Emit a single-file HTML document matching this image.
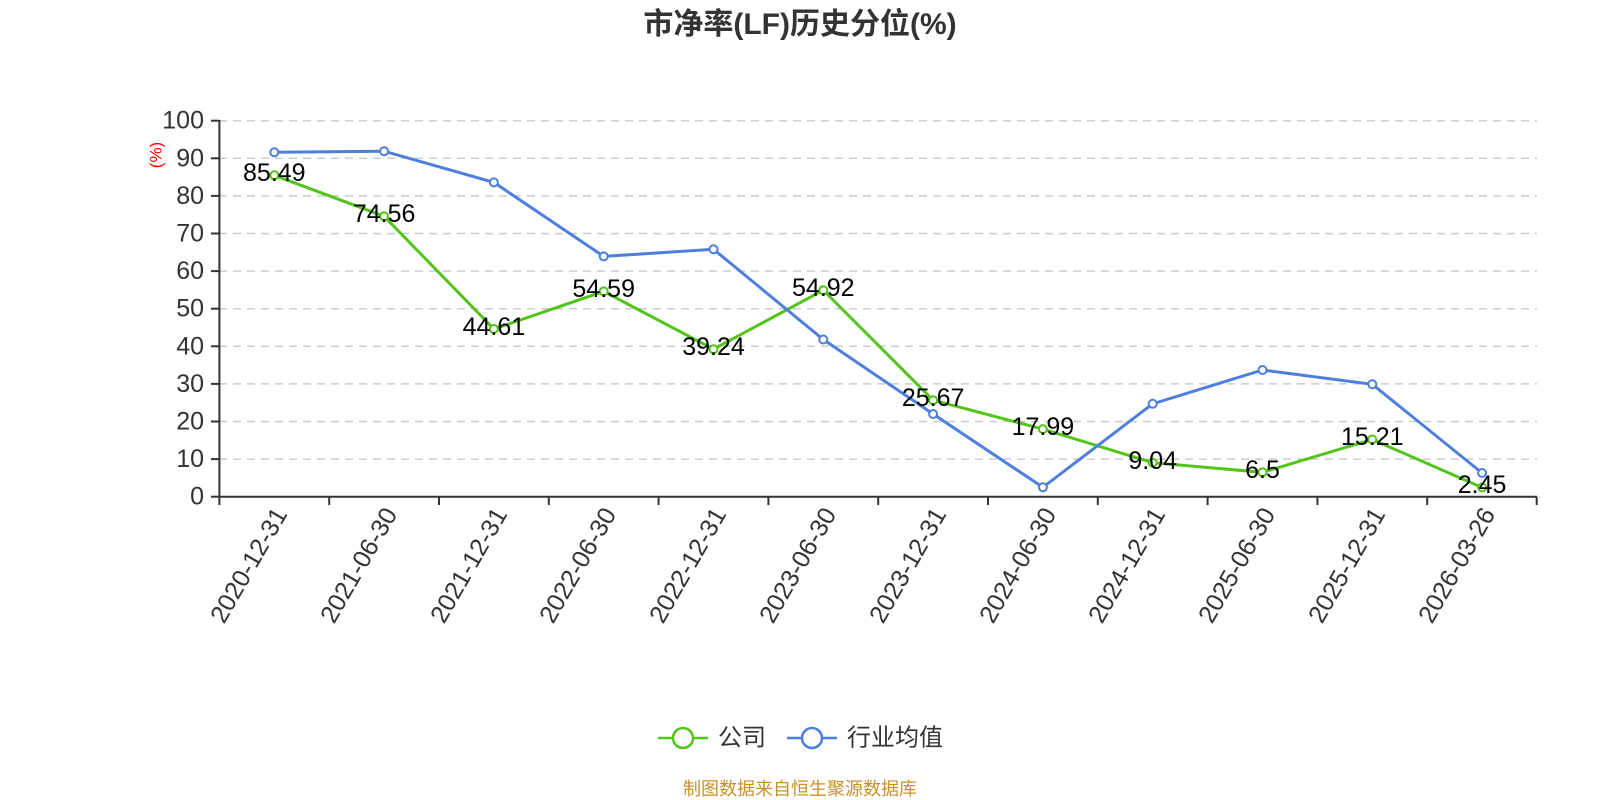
<!DOCTYPE html>
<html><head><meta charset="utf-8"><style>
html,body{margin:0;padding:0;background:#fff;}
svg{display:block;font-family:"Liberation Sans","Noto Sans CJK SC",sans-serif;}
</style></head><body>
<svg width="1600" height="800" viewBox="0 0 1600 800" xmlns="http://www.w3.org/2000/svg">
<text x="800" y="34" text-anchor="middle" font-size="30" font-weight="bold" fill="#333">市净率(LF)历史分位(%)</text>
<g stroke="#ccc" stroke-width="1.5" stroke-dasharray="8,6">
<line x1="219" x2="1537" y1="459.1" y2="459.1"/><line x1="219" x2="1537" y1="421.5" y2="421.5"/>
<line x1="219" x2="1537" y1="383.9" y2="383.9"/><line x1="219" x2="1537" y1="346.3" y2="346.3"/>
<line x1="219" x2="1537" y1="308.7" y2="308.7"/><line x1="219" x2="1537" y1="271.1" y2="271.1"/>
<line x1="219" x2="1537" y1="233.5" y2="233.5"/><line x1="219" x2="1537" y1="195.9" y2="195.9"/>
<line x1="219" x2="1537" y1="158.3" y2="158.3"/><line x1="219" x2="1537" y1="120.7" y2="120.7"/>
</g>
<g stroke="#333" stroke-width="2">
<line x1="219.4" y1="120" x2="219.4" y2="497"/>
<line x1="219" y1="496.7" x2="1537" y2="496.7"/>
<line x1="211" x2="219" y1="496.7" y2="496.7"/><line x1="211" x2="219" y1="459.1" y2="459.1"/>
<line x1="211" x2="219" y1="421.5" y2="421.5"/><line x1="211" x2="219" y1="383.9" y2="383.9"/>
<line x1="211" x2="219" y1="346.3" y2="346.3"/><line x1="211" x2="219" y1="308.7" y2="308.7"/>
<line x1="211" x2="219" y1="271.1" y2="271.1"/><line x1="211" x2="219" y1="233.5" y2="233.5"/>
<line x1="211" x2="219" y1="195.9" y2="195.9"/><line x1="211" x2="219" y1="158.3" y2="158.3"/>
<line x1="211" x2="219" y1="120.7" y2="120.7"/>
<line x1="219.4" x2="219.4" y1="497" y2="505"/><line x1="329.2" x2="329.2" y1="497" y2="505"/>
<line x1="439" x2="439" y1="497" y2="505"/><line x1="548.8" x2="548.8" y1="497" y2="505"/>
<line x1="658.6" x2="658.6" y1="497" y2="505"/><line x1="768.4" x2="768.4" y1="497" y2="505"/>
<line x1="878.2" x2="878.2" y1="497" y2="505"/><line x1="988" x2="988" y1="497" y2="505"/>
<line x1="1097.8" x2="1097.8" y1="497" y2="505"/><line x1="1207.6" x2="1207.6" y1="497" y2="505"/>
<line x1="1317.4" x2="1317.4" y1="497" y2="505"/><line x1="1427.2" x2="1427.2" y1="497" y2="505"/>
<line x1="1536.7" x2="1536.7" y1="497" y2="505"/>
</g>
<g font-size="25" fill="#333" text-anchor="end" dominant-baseline="central">
<text x="204" y="496.7">0</text><text x="204" y="459.1">10</text><text x="204" y="421.5">20</text>
<text x="204" y="383.9">30</text><text x="204" y="346.3">40</text><text x="204" y="308.7">50</text>
<text x="204" y="271.1">60</text><text x="204" y="233.5">70</text><text x="204" y="195.9">80</text>
<text x="204" y="158.3">90</text><text x="204" y="120.7">100</text>
</g>
<text transform="translate(156,155) rotate(-90)" font-size="17" fill="red" text-anchor="middle" dominant-baseline="central">(%)</text>
<g font-size="25" fill="#333" text-anchor="end" dominant-baseline="central">
<text transform="translate(281,510) rotate(-60)">2020-12-31</text>
<text transform="translate(391,510) rotate(-60)">2021-06-30</text>
<text transform="translate(501,510) rotate(-60)">2021-12-31</text>
<text transform="translate(610,510) rotate(-60)">2022-06-30</text>
<text transform="translate(720,510) rotate(-60)">2022-12-31</text>
<text transform="translate(830,510) rotate(-60)">2023-06-30</text>
<text transform="translate(940,510) rotate(-60)">2023-12-31</text>
<text transform="translate(1050,510) rotate(-60)">2024-06-30</text>
<text transform="translate(1159,510) rotate(-60)">2024-12-31</text>
<text transform="translate(1269,510) rotate(-60)">2025-06-30</text>
<text transform="translate(1379,510) rotate(-60)">2025-12-31</text>
<text transform="translate(1489,510) rotate(-60)">2026-03-26</text>
</g>
<polyline fill="none" stroke="#52c41a" stroke-width="3" points="274.3,175.3 384.1,216.3 493.9,329 603.7,291.4 713.5,349.2 823.3,290.2 933.1,400.2 1042.9,429.1 1152.7,462.7 1262.5,472.3 1372.3,439.5 1482.1,487.5"/>
<polyline fill="none" stroke="#4e7fdf" stroke-width="3" points="274.3,152.3 384.1,151.2 493.9,182.4 603.7,256.4 713.5,249.3 823.3,339.5 933.1,414 1042.9,487.3 1152.7,403.8 1262.5,370 1372.3,384.3 1482.1,473"/>
<g fill="#fff" stroke="#52c41a" stroke-width="2">
<circle cx="274.3" cy="175.3" r="4"/><circle cx="384.1" cy="216.3" r="4"/><circle cx="493.9" cy="329" r="4"/>
<circle cx="603.7" cy="291.4" r="4"/><circle cx="713.5" cy="349.2" r="4"/><circle cx="823.3" cy="290.2" r="4"/>
<circle cx="933.1" cy="400.2" r="4"/><circle cx="1042.9" cy="429.1" r="4"/><circle cx="1152.7" cy="462.7" r="4"/>
<circle cx="1262.5" cy="472.3" r="4"/><circle cx="1372.3" cy="439.5" r="4"/><circle cx="1482.1" cy="487.5" r="4"/>
</g>
<g fill="#fff" stroke="#4e7fdf" stroke-width="2">
<circle cx="274.3" cy="152.3" r="4"/><circle cx="384.1" cy="151.2" r="4"/><circle cx="493.9" cy="182.4" r="4"/>
<circle cx="603.7" cy="256.4" r="4"/><circle cx="713.5" cy="249.3" r="4"/><circle cx="823.3" cy="339.5" r="4"/>
<circle cx="933.1" cy="414" r="4"/><circle cx="1042.9" cy="487.3" r="4"/><circle cx="1152.7" cy="403.8" r="4"/>
<circle cx="1262.5" cy="370" r="4"/><circle cx="1372.3" cy="384.3" r="4"/><circle cx="1482.1" cy="473" r="4"/>
</g>
<g font-size="25" fill="#000" text-anchor="middle" dominant-baseline="central">
<text x="274.3" y="173">85.49</text><text x="384.1" y="214">74.56</text><text x="493.9" y="327">44.61</text>
<text x="603.7" y="289">54.59</text><text x="713.5" y="347">39.24</text><text x="823.3" y="288">54.92</text>
<text x="933.1" y="398">25.67</text><text x="1042.9" y="427">17.99</text><text x="1152.7" y="461">9.04</text>
<text x="1262.5" y="470">6.5</text><text x="1372.3" y="437">15.21</text><text x="1482.1" y="485">2.45</text>
</g>
<line x1="658" x2="708" y1="738" y2="738" stroke="#52c41a" stroke-width="2.5"/>
<circle cx="683" cy="738" r="10" fill="#fff" stroke="#52c41a" stroke-width="2.5"/>
<text x="718" y="738" font-size="24" fill="#333" dominant-baseline="central">公司</text>
<line x1="787" x2="837" y1="738" y2="738" stroke="#4e7fdf" stroke-width="2.5"/>
<circle cx="812" cy="738" r="10" fill="#fff" stroke="#4e7fdf" stroke-width="2.5"/>
<text x="847" y="738" font-size="24" fill="#333" dominant-baseline="central">行业均值</text>
<text x="800" y="789" font-size="18" fill="#c8902a" text-anchor="middle" dominant-baseline="central">制图数据来自恒生聚源数据库</text>
</svg>
</body></html>
